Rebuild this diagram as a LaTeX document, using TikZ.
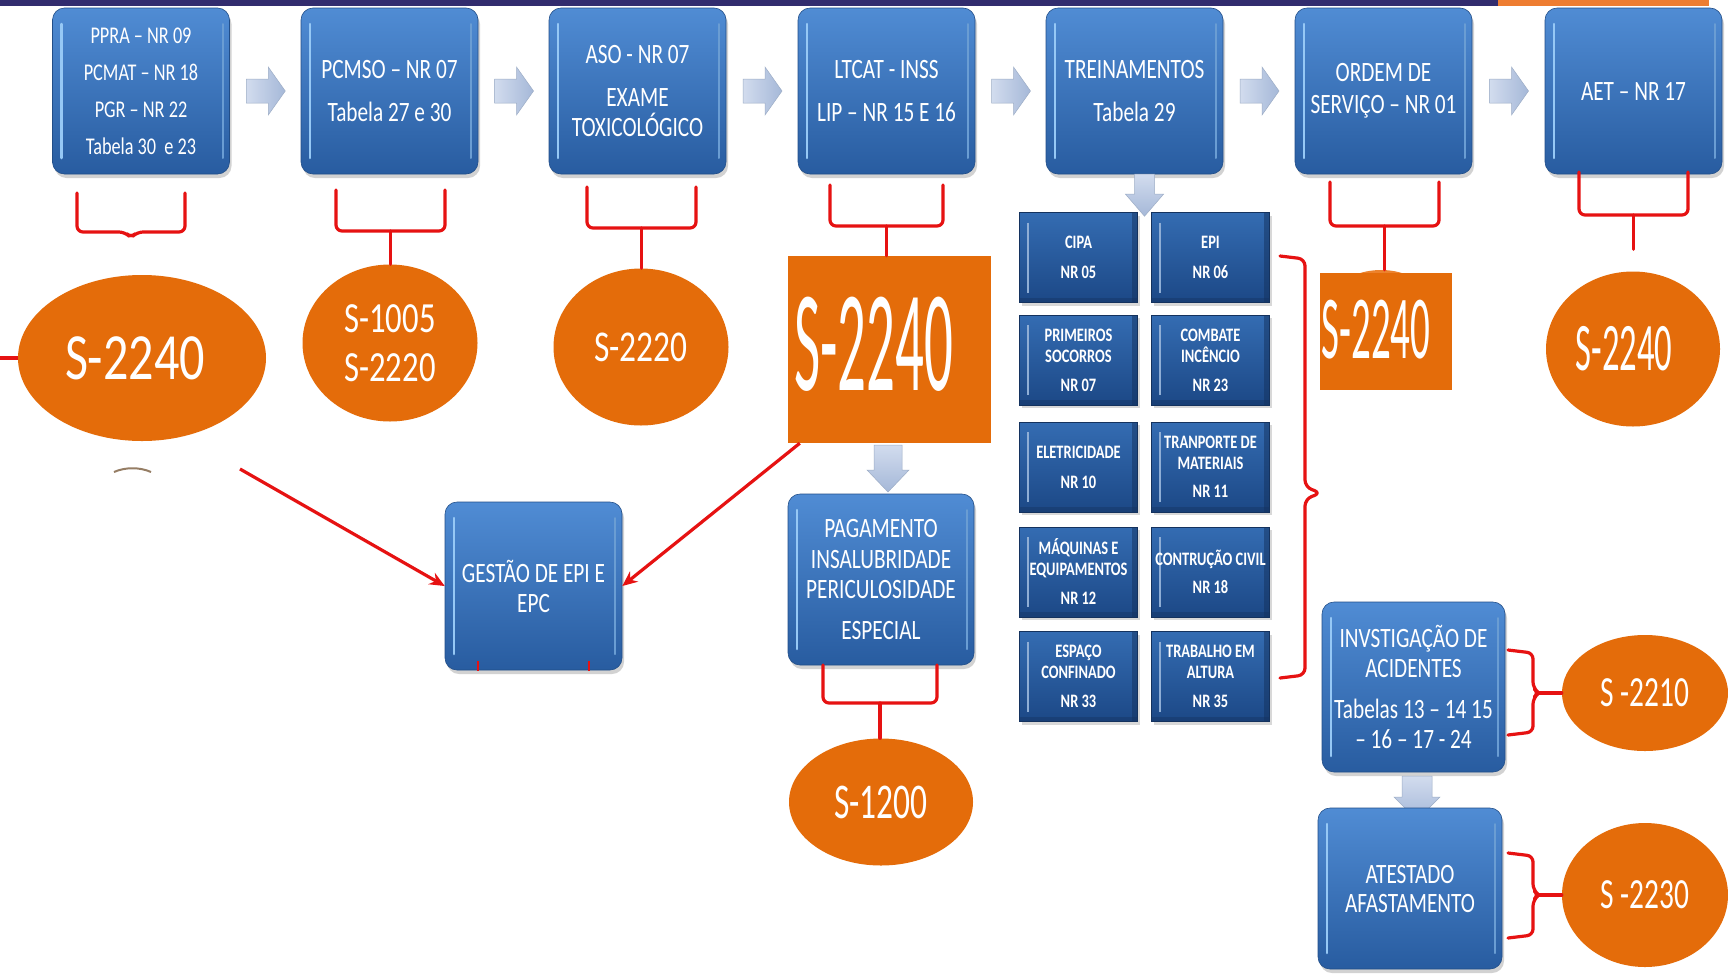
\documentclass[tikz,border=0pt]{standalone}
\usepackage{fontspec}
\usepackage{graphicx}
\newfontfamily\cf[FakeStretch=0.76]{Carlito}
\usetikzlibrary{shapes.geometric,shadows,calc,arrows.meta}
\definecolor{bxTop}{RGB}{80,140,212}
\definecolor{bxBot}{RGB}{40,92,160}
\definecolor{bxHi}{RGB}{150,200,245}
\definecolor{cTop}{RGB}{52,108,178}
\definecolor{cBot}{RGB}{28,72,134}
\definecolor{org}{RGB}{228,108,10}
\definecolor{orgL}{RGB}{236,130,45}
\definecolor{rd}{RGB}{230,18,18}
\definecolor{arL}{RGB}{210,220,238}
\definecolor{arR}{RGB}{165,184,216}
\definecolor{barP}{RGB}{50,44,110}
\definecolor{barO}{RGB}{238,125,49}
\tikzset{
  bx/.style={rectangle, rounded corners=12pt, inner sep=0pt,
    minimum width=177pt, minimum height=166pt,
    top color=bxTop, bottom color=bxBot, draw=bxBot!85!black, line width=0.6pt,
    drop shadow={opacity=0.35, shadow xshift=2pt, shadow yshift=-4pt},
    text=white, align=center, font=\cf\fontsize{28}{43}\selectfont,
    path picture={
      \draw[bxHi, line width=2.5pt, line cap=round]
        ($(path picture bounding box.north west)+(9pt,-16pt)$) --
        ($(path picture bounding box.south west)+(9pt,16pt)$);
      \draw[bxHi!60!bxBot, line width=2pt, line cap=round]
        ($(path picture bounding box.north east)+(-7pt,-16pt)$) --
        ($(path picture bounding box.south east)+(-7pt,16pt)$);
    }},
  cell/.style={rectangle, inner sep=0pt, minimum width=118pt, minimum height=90pt,
    top color=cTop, bottom color=cBot, draw=cBot!70!black, line width=0.6pt,
    drop shadow={opacity=0.3, shadow xshift=2pt, shadow yshift=-3pt},
    text=white, align=center, font=\cf\bfseries\fontsize{19}{21}\selectfont,
    path picture={
      \draw[cTop!55!white, line width=2pt]
        ($(path picture bounding box.north west)+(8pt,-10pt)$) --
        ($(path picture bounding box.south west)+(8pt,10pt)$);
      \fill[cBot!70!black, opacity=0.5]
        ($(path picture bounding box.north east)+(-6pt,0pt)$) rectangle
        (path picture bounding box.south east);
      \fill[cBot!70!black, opacity=0.4]
        ($(path picture bounding box.south west)+(0pt,5pt)$) rectangle
        (path picture bounding box.south east);
    }},
  oel/.style={ellipse, fill=org, inner sep=0pt, text=white, align=center},
  osq/.style={rectangle, fill=org, inner sep=0pt},
  rb/.style={draw=rd, line width=3.2pt, line cap=round, line join=round},
  rarr/.style={draw=rd, line width=3.2pt, -{Stealth[length=15pt,width=13pt]}},
  blkh/.style={left color=arL, right color=arR, draw=arR!80!gray, line width=0.5pt},
  blkv/.style={top color=arL, bottom color=arR, draw=arR!80!gray, line width=0.5pt}
}
\begin{document}
\begin{tikzpicture}[x=1pt, y=-1pt]
\useasboundingbox (0,0) rectangle (1728,975);
\fill[white] (0,0) rectangle (1728,975);
% top bars
\fill[barP] (0,0) rectangle (1498,6);
\fill[barO] (1498,0) rectangle (1709,6);

% top row boxes
\node[bx, font=\cf\fontsize{24}{37}\selectfont] (b1) at (141,91) {PPRA – NR 09\\PCMAT – NR 18\\PGR – NR 22\\Tabela 30\ \ e 23};
\node[bx] (b2) at (389.5,91) {PCMSO – NR 07\\Tabela 27 e 30};
\node[bx, font=\cf\fontsize{28}{30}\selectfont] (b3) at (637.5,91) {ASO - NR 07\\[13pt]EXAME\\TOXICOLÓGICO};
\node[bx] (b4) at (886.5,91) {LTCAT - INSS\\LIP – NR 15 E 16};
\node[bx] (b5) at (1134.5,91) {TREINAMENTOS\\Tabela 29};
\node[bx, font=\cf\fontsize{28}{32}\selectfont] (b6) at (1383.5,91) {ORDEM DE\\SERVIÇO – NR 01};
\node[bx] (b7) at (1633.5,91) {AET – NR 17};

% horizontal block arrows
\foreach \a/\b in {b1/b2,b2/b3,b3/b4,b4/b5,b5/b6,b6/b7}{
  \path[blkh, shift={($(\a.east)!0.5!(\b.west)$)}]
    (-19,-12) -- (3,-12) -- (3,-24) -- (20,0) -- (3,24) -- (3,12) -- (-19,12) -- cycle;
}

% orange targets
\node[oel, minimum width=248pt, minimum height=166pt, font=\cf\fontsize{66}{66}\selectfont] (e1) at (142,358) {S-2240\hspace*{14pt}};
\node[oel, minimum width=175pt, minimum height=157pt, font=\cf\fontsize{43}{49}\selectfont] (e2) at (390,343) {S-1005\\S-2220};
\node[oel, minimum width=175pt, minimum height=157pt, font=\cf\fontsize{44}{44}\selectfont] (e3) at (641,347) {S-2220};
\node[osq, minimum width=203pt, minimum height=187pt] (sq4) at (889.5,349.5) {};
\node[text=white, inner sep=0pt, font=\cf] (t4) at (874,344) {\scalebox{0.52}[1]{\fontsize{144}{144}\selectfont S-2240}};
\node[ellipse, fill=orgL, inner sep=0pt, minimum width=122pt, minimum height=100pt] (e6b) at (1381,320) {};
\node[osq, minimum width=132pt, minimum height=117pt] (sq6) at (1386,331.5) {};
\node[text=white, inner sep=0pt, font=\cf] (t6) at (1376,330) {\scalebox{0.57}[1]{\fontsize{90}{90}\selectfont S-2240}};
\node[oel, minimum width=174pt, minimum height=155pt, font=\cf] (e7) at (1633,349) {\scalebox{0.67}[1]{\fontsize{68}{68}\selectfont S-2240}\hspace*{18pt}};

% small sliver under e1
\draw[brown!55!black, opacity=0.7, line width=2pt] (114,472) .. controls (125,467) and (140,467) .. (151,472);

% left stub
\coordinate (ls) at (0,358);
\draw[rb, line cap=butt] (ls) -- (e1.west);

% brackets under top boxes
\draw[rb, rounded corners=6pt] (77,193) -- (77,232) -- (125,232) -- (131,238) -- (137,232) -- (185,232) -- (185,193);
\draw[rb, rounded corners=6pt] (336,190) -- (336,231) -- (445,231) -- (445,190);
\coordinate (m2) at (390.5,231);
\draw[rb] (m2) -- (m2 |- e2.north);
\draw[rb, rounded corners=6pt] (587,187) -- (587,228) -- (696,228) -- (696,187);
\coordinate (m3) at (641.5,228);
\draw[rb] (m3) -- (m3 |- e3.north);
\draw[rb, rounded corners=6pt] (830,185) -- (830,226) -- (943,226) -- (943,185);
\coordinate (m4) at (886.5,226);
\draw[rb] (m4) -- (m4 |- sq4.north);
\draw[rb, rounded corners=6pt] (1330,182) -- (1330,226) -- (1439,226) -- (1439,182);
\coordinate (m6) at (1384.5,226);
\draw[rb] (m6) -- (m6 |- e6b.north);
\draw[rb, rounded corners=6pt] (1579,172) -- (1579,215) -- (1688,215) -- (1688,172);
\coordinate (m7) at (1633.5,215);
\draw[rb] (m7) -- ($(m7 |- e7.north)+(0pt,22pt)$);

% lower-left box
\node[bx, minimum height=168pt, font=\cf\fontsize{28}{30}\selectfont] (g) at (533.5,586) {GESTÃO DE EPI E\\EPC};
\draw[rd, line width=2pt] (478,661) -- (478,671);
\draw[rd, line width=2pt] (589,661) -- (589,671);
\coordinate (a1) at (240,469);
\coordinate (a2) at ($(sq4.south west)+(12pt,0pt)$);
\draw[rarr] (a1) -- (g.west);
\draw[rarr] (a2) -- (g.east);

% pagamento
\node[bx, minimum width=186pt, minimum height=171pt, font=\cf\fontsize{28}{30.5}\selectfont] (p) at (881,579.5) {PAGAMENTO\\INSALUBRIDADE\\PERICULOSIDADE\\[10pt]ESPECIAL};
\path[blkv, shift={(888,468)}] (-14,-23) -- (14,-23) -- (14,2) -- (21,2) -- (0,24) -- (-21,2) -- (-14,2) -- cycle;
\node[oel, minimum width=184pt, minimum height=127pt, font=\cf] (s1200) at (881,802) {\scalebox{0.88}[1]{\fontsize{50}{50}\selectfont S-1200}};
\draw[rb, rounded corners=6pt] (823,665) -- (823,703) -- (937,703) -- (937,665);
\coordinate (mp) at (880,703);
\draw[rb] (mp) -- (mp |- s1200.north);

% training grid
\node[cell] (c11) at (1078.5,257.5) {CIPA\\[9pt]NR 05};
\node[cell] (c12) at (1210.5,257.5) {EPI\\[9pt]NR 06};
\node[cell] (c21) at (1078.5,360) {PRIMEIROS\\SOCORROS\\[8pt]NR 07};
\node[cell] (c22) at (1210.5,360) {COMBATE\\INCÊNCIO\\[8pt]NR 23};
\node[cell] (c31) at (1078.5,467) {ELETRICIDADE\\[9pt]NR 10};
\node[cell] (c32) at (1210.5,467) {TRANPORTE DE\\MATERIAIS\\[7pt]NR 11};
\node[cell] (c41) at (1078.5,572) {MÁQUINAS E\\EQUIPAMENTOS\\[8pt]NR 12};
\node[cell] (c42) at (1210.5,572) {CONTRUÇÃO CIVIL\\[7pt]NR 18};
\node[cell] (c51) at (1078.5,676.5) {ESPAÇO\\CONFINADO\\[8pt]NR 33};
\node[cell] (c52) at (1210.5,676.5) {TRABALHO EM\\ALTURA\\[8pt]NR 35};
\path[blkv, shift={($(c11.north east)!0.5!(c12.north west)+(0pt,17pt)$)}]
  (-10,-21) -- (10,-21) -- (10,-1) -- (19,-1) -- (0,21) -- (-19,-1) -- (-10,-1) -- cycle;
\draw[rb, rounded corners=7pt] (1280,256) -- (1305,259) -- (1305,487) -- (1321,493) -- (1305,499) -- (1305,675) -- (1280,678);

% accidents
\node[bx, minimum width=183pt, minimum height=170pt, font=\cf\fontsize{28}{30}\selectfont] (inv) at (1413.5,687) {INVSTIGAÇÃO DE\\ACIDENTES\\[11pt]Tabelas 13 – 14 15\\– 16 – 17 - 24};
\path[blkv, shift={(1417,798)}] (-15,-22) -- (15,-22) -- (15,-1) -- (23,-1) -- (0,22) -- (-23,-1) -- (-15,-1) -- cycle;
\node[bx, minimum width=184pt, minimum height=161pt, font=\cf\fontsize{28}{29}\selectfont] (at) at (1410,888.5) {ATESTADO\\AFASTAMENTO};
\node[oel, minimum width=166pt, minimum height=116pt, font=\cf] (s2210) at (1645,693) {\scalebox{0.9}[1]{\fontsize{43}{43}\selectfont S -2210}};
\node[oel, minimum width=166pt, minimum height=144pt, font=\cf] (s2230) at (1645,895) {\scalebox{0.9}[1]{\fontsize{43}{43}\selectfont S -2230}};
\draw[rb, rounded corners=6pt] (1508,650) -- (1533,653) -- (1533,688) -- (1539,693) -- (1533,698) -- (1533,732) -- (1508,735);
\coordinate (mi) at (1537,693);
\draw[rb] (mi) -- (s2210.west);
\draw[rb, rounded corners=6pt] (1508,853) -- (1533,856) -- (1533,890) -- (1539,895) -- (1533,900) -- (1533,935) -- (1508,938);
\coordinate (ma) at (1537,895);
\draw[rb] (ma) -- (s2230.west);
\end{tikzpicture}
\end{document}
